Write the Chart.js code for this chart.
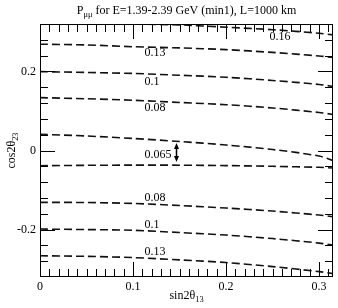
<!DOCTYPE html>
<html>
<head>
<meta charset="utf-8">
<script src="https://cdn.jsdelivr.net/npm/chart.js@4/dist/chart.umd.min.js"></script>
<style>
  body { margin: 0; background: #fff; }
  #wrap { width: 338px; height: 308px; }
</style>
</head>
<body>
<div id="wrap"><canvas id="contourChart" width="338" height="308"></canvas></div>
<script>
// sin2θ13 sample points along each contour
const sin2t13 = [0, 0.05, 0.1, 0.15, 0.2, 0.25, 0.3, 0.315];

// cos2θ23 along the P_μμ contours (upper and lower branches)
const c016Up = [0.3253, 0.3240, 0.3200, 0.3177, 0.3119, 0.3056, 0.2967, 0.2924];
const c013Up = [0.2689, 0.2671, 0.2625, 0.2595, 0.2552, 0.2481, 0.2392, 0.2354];
const c010Up = [0.1995, 0.1975, 0.1949, 0.1904, 0.1853, 0.1772, 0.1671, 0.1620];
const c008Up = [0.1337, 0.1309, 0.1271, 0.1215, 0.1159, 0.1076, 0.0962, 0.0911];
const c0065Up = [0.0410, 0.0367, 0.0304, 0.0228, 0.0139, 0.0025, -0.0139, -0.0253];
const c0065Dn = [-0.0385, -0.0375, -0.0370, -0.0372, -0.0382, -0.0400, -0.0425, -0.0443];
const c008Dn = [-0.1311, -0.1316, -0.1339, -0.1392, -0.1456, -0.1532, -0.1633, -0.1676];
const c010Dn = [-0.1987, -0.2000, -0.2018, -0.2076, -0.2139, -0.2228, -0.2342, -0.2392];
const c013Dn = [-0.2663, -0.2678, -0.2709, -0.2767, -0.2835, -0.2937, -0.3063, -0.3114];

const curves = [c016Up, c013Up, c010Up, c008Up, c0065Up, c0065Dn, c008Dn, c010Dn, c013Dn];

// contour labels and where they sit (data coords)
const labelText = ["0.16", "0.13", "0.1", "0.08", "0.065", "0.08", "0.1", "0.13"];
const labelX = [0.258, 0.1237, 0.1204, 0.1237, 0.1269, 0.1237, 0.1204, 0.1237];
const labelY = [0.2873, 0.2468, 0.1742, 0.1076, -0.0114, -0.1203, -0.1886, -0.2570];

// double arrow between the two 0.065 branches
const arrowX = 0.146;
const arrowY = [0.019, -0.029];

const xTicks = [0, 0.1, 0.2, 0.3];
const yTicks = [-0.2, 0, 0.2];

const FONT = '"Liberation Serif", "DejaVu Serif", serif';

function drawSub(ctx, parts, cx, cy, size) {
  let w = 0;
  parts.forEach(([t, sub]) => {
    ctx.font = (sub ? size * 0.7 : size) + 'px ' + FONT;
    w += ctx.measureText(t).width;
  });
  let x = cx - w / 2;
  ctx.textAlign = 'left';
  ctx.textBaseline = 'middle';
  parts.forEach(([t, sub]) => {
    ctx.font = (sub ? size * 0.7 : size) + 'px ' + FONT;
    ctx.fillText(t, x, sub ? cy + size * 0.35 : cy);
    x += ctx.measureText(t).width;
  });
}

const framePlugin = {
  id: 'frame',
  afterDraw(chart) {
    const { ctx, chartArea: a, scales: { x, y } } = chart;
    ctx.save();
    ctx.strokeStyle = '#000';
    ctx.lineWidth = 1;
    ctx.strokeRect(a.left + 0.5, a.top + 0.5, a.right - a.left - 1, a.bottom - a.top - 1);

    // inward ticks on all four sides
    const major = 15, minor = 8;
    ctx.beginPath();
    for (let i = 0; i <= 31; i++) {
      const v = i / 100;
      const len = (i % 10 === 0) ? major : minor;
      const px = Math.round(x.getPixelForValue(v)) + 0.5;
      ctx.moveTo(px, a.bottom); ctx.lineTo(px, a.bottom - len);
      ctx.moveTo(px, a.top); ctx.lineTo(px, a.top + len);
    }
    for (let i = -7; i <= 7; i++) {
      const v = i * 0.04;
      const len = (i % 5 === 0) ? major : minor;
      const py = Math.round(y.getPixelForValue(v)) + 0.5;
      ctx.moveTo(a.left, py); ctx.lineTo(a.left + len, py);
      ctx.moveTo(a.right, py); ctx.lineTo(a.right - len, py);
    }
    ctx.stroke();

    // contour labels
    ctx.fillStyle = '#000';
    ctx.font = '12px ' + FONT;
    ctx.textAlign = 'center';
    ctx.textBaseline = 'middle';
    labelText.forEach((t, i) => {
      ctx.fillText(t, x.getPixelForValue(labelX[i]), y.getPixelForValue(labelY[i]));
    });

    // double-headed arrow
    const ax = Math.round(x.getPixelForValue(arrowX)) + 0.5;
    const y1 = y.getPixelForValue(arrowY[0]);
    const y2 = y.getPixelForValue(arrowY[1]);
    ctx.lineWidth = 1.5;
    ctx.beginPath();
    ctx.moveTo(ax, y1 + 3); ctx.lineTo(ax, y2 - 3);
    ctx.stroke();
    ctx.beginPath();
    ctx.moveTo(ax, y1); ctx.lineTo(ax - 2.5, y1 + 6); ctx.lineTo(ax + 2.5, y1 + 6); ctx.closePath();
    ctx.moveTo(ax, y2); ctx.lineTo(ax - 2.5, y2 - 6); ctx.lineTo(ax + 2.5, y2 - 6); ctx.closePath();
    ctx.fill();

    // titles
    const cx = (a.left + a.right) / 2;
    drawSub(ctx, [['P', false], ['\u03bc\u03bc', true], [' for E=1.39-2.39 GeV (min1), L=1000 km', false]], cx, 11, 12);
    drawSub(ctx, [['sin2\u03b8', false], ['13', true]], cx, 296, 12);
    ctx.save();
    ctx.translate(12, (a.top + a.bottom) / 2);
    ctx.rotate(-Math.PI / 2);
    drawSub(ctx, [['cos2\u03b8', false], ['23', true]], 0, 0, 12);
    ctx.restore();
    ctx.restore();
  }
};

const ctx = document.getElementById('contourChart').getContext('2d');
new Chart(ctx, {
  type: 'line',
  data: {
    datasets: curves.map(c => ({
      data: sin2t13.map((v, i) => ({ x: v, y: c[i] })),
      borderColor: '#111',
      borderWidth: 1.6,
      borderDash: [8, 4],
      pointRadius: 0,
      tension: 0.3,
      fill: false
    }))
  },
  options: {
    responsive: false,
    animation: false,
    layout: { padding: { top: 24, right: 5, left: 0, bottom: 0 } },
    plugins: { legend: { display: false }, tooltip: { enabled: false } },
    scales: {
      x: {
        type: 'linear',
        min: 0,
        max: 0.315,
        border: { display: false },
        grid: { display: false, drawTicks: false },
        afterFit: s => { s.height = 31; },
        afterBuildTicks: s => { s.ticks = xTicks.map(v => ({ value: v })); },
        ticks: {
          padding: 3,
          color: '#000',
          font: { family: FONT, size: 12 },
          maxRotation: 0,
          callback: v => String(+v.toFixed(2))
        }
      },
      y: {
        type: 'linear',
        min: -0.32,
        max: 0.32,
        border: { display: false },
        grid: { display: false, drawTicks: false },
        afterFit: s => { s.width = 40; },
        afterBuildTicks: s => { s.ticks = yTicks.map(v => ({ value: v })); },
        ticks: {
          padding: 4,
          color: '#000',
          font: { family: FONT, size: 12 },
          callback: v => String(+v.toFixed(2))
        }
      }
    }
  },
  plugins: [framePlugin]
});
</script>
</body>
</html>
